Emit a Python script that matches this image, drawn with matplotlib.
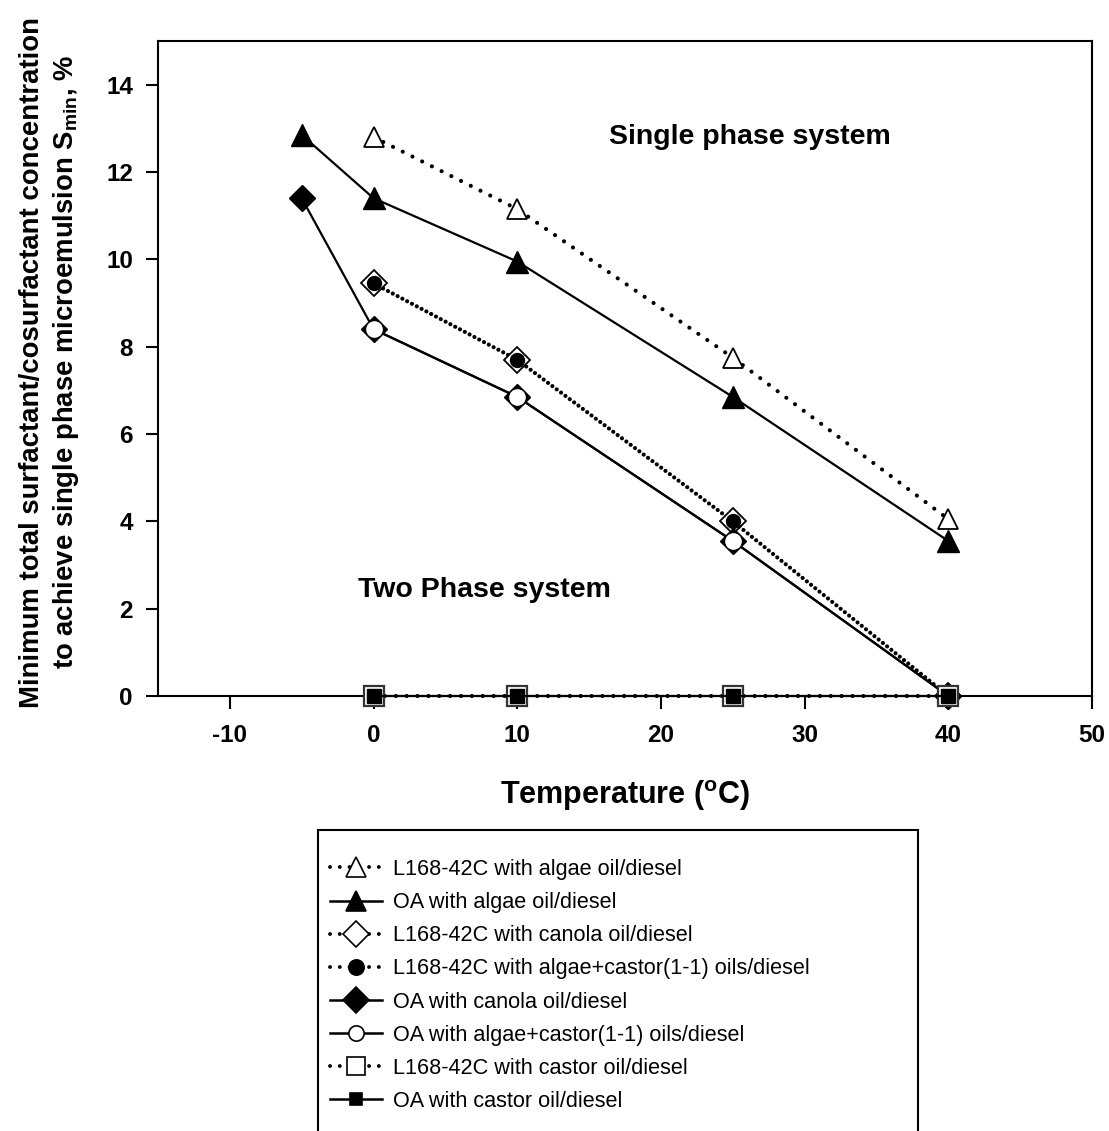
import matplotlib
matplotlib.use("Agg")
import matplotlib.pyplot as plt
from matplotlib.lines import Line2D
from matplotlib.patches import Rectangle

plt.rcParams['font.family'] = ['Liberation Sans', 'DejaVu Sans']
plt.rcParams['axes.unicode_minus'] = False

# Temperatures (°C)
temp_l168 = [0, 10, 25, 40]
temp_oa = [-5, 0, 10, 25, 40]
temp_oa_ac = [0, 10, 25, 40]
temp_castor = [0, 10, 25, 40]

# Minimum surfactant/cosurfactant concentration S_min (%)
l168_algae = [12.8, 11.15, 7.75, 4.05]
oa_algae = [12.85, 11.4, 9.95, 6.85, 3.55]
l168_canola = [9.45, 7.7, 4.0, 0.0]
l168_algae_castor = [9.45, 7.7, 4.0, 0.0]
oa_canola = [11.4, 8.4, 6.85, 3.55, 0.0]
oa_algae_castor = [8.4, 6.85, 3.55, 0.0]
l168_castor = [0.0, 0.0, 0.0, 0.0]
oa_castor = [0.0, 0.0, 0.0, 0.0]

labels = [
    "L168-42C with algae oil/diesel",
    "OA with algae oil/diesel",
    "L168-42C with canola oil/diesel",
    "L168-42C with algae+castor(1-1) oils/diesel",
    "OA with canola oil/diesel",
    "OA with algae+castor(1-1) oils/diesel",
    "L168-42C with castor oil/diesel",
    "OA with castor oil/diesel",
]

W, H = 1109, 1131
fig = plt.figure(figsize=(W / 100, H / 100), dpi=100)
ax = fig.add_axes([158 / W, 1 - 696 / H, (1092 - 158) / W, (696 - 41) / H])

dot = dict(color='black', lw=3.0, linestyle=(0, (0.01, 2.6)),
           dash_capstyle='round', clip_on=False)
dot_shift = dict(dot, linestyle=(1.3, (0.01, 2.6)))
sol = dict(color='black', lw=1.6, clip_on=False)

# algae oil series
ax.plot(temp_l168, l168_algae, marker='^', ms=15, mfc='white', mec='black',
        mew=1.3, zorder=3, **dot)
ax.plot(temp_oa, oa_algae, marker='^', ms=16, mfc='black', mec='black',
        zorder=3, **sol)

# canola / algae+castor series
ax.plot(temp_l168, l168_canola, marker='D', ms=13, mfc='white', mec='black',
        mew=1.3, zorder=3, **dot)
ax.plot(temp_l168, l168_algae_castor, marker='o', ms=10, mfc='black', mec='black',
        zorder=4, **dot_shift)
ax.plot(temp_oa, oa_canola, marker='D', ms=13.5, mfc='black', mec='black',
        zorder=3, **sol)
ax.plot(temp_oa_ac, oa_algae_castor, marker='o', ms=13, mfc='white', mec='black',
        mew=1.0, zorder=4, **sol)

# castor oil series along the baseline
ax.plot(temp_castor, l168_castor, marker='s', ms=14, mfc='white', mec='#333333',
        mew=1.6, zorder=6, **dot)
ax.plot(temp_castor, oa_castor, marker='s', ms=9.5, mfc='black', mec='black',
        zorder=7, **sol)

ax.set_xlim(-15, 50)
ax.set_ylim(0, 15)
ax.set_xticks([-10, 0, 10, 20, 30, 40, 50])
ax.set_yticks([0, 2, 4, 6, 8, 10, 12, 14])
ax.tick_params(direction='out', length=9, width=1.5, labelsize=17.5)
ax.tick_params(axis='x', pad=11)
ax.tick_params(axis='y', pad=9)
for lab in ax.get_xticklabels() + ax.get_yticklabels():
    lab.set_fontweight('bold')
for s in ax.spines.values():
    s.set_linewidth(1.5)

fig.text(625 / W, 1 - 804 / H, "Temperature ($\\mathregular{^o}$C)", fontsize=22,
         fontweight='bold', ha='center', va='baseline')
fig.text(50 / W, 1 - 362 / H,
         "Minimum total surfactant/cosurfactant concentration\n"
         "to achieve single phase microemulsion S$\\mathregular{_{min}}$, %",
         fontsize=19.8, fontweight='bold', rotation=90, ha='center', va='center',
         multialignment='center', linespacing=1.3)

ax.text(26.2, 12.65, "Single phase system", fontsize=20.5, fontweight='bold',
        ha='center', va='baseline')
ax.text(7.7, 2.26, "Two Phase system", fontsize=20.5, fontweight='bold',
        ha='center', va='baseline')

# legend with handles mirroring the plotted styles
def handle(marker, ms, mfc, line):
    return Line2D([], [], marker=marker, ms=ms, mfc=mfc, mec='black', mew=1.2, **line)

dot_leg = dict(color='black', lw=2.8, linestyle=(0, (0.01, 2.5)), dash_capstyle='round')
sol_leg = dict(color='black', lw=1.8)
handles = [
    handle('^', 14, 'white', dot_leg),
    handle('^', 14, 'black', sol_leg),
    handle('D', 13, 'white', dot_leg),
    handle('o', 11, 'black', dot_leg),
    handle('D', 13, 'black', sol_leg),
    handle('o', 11, 'white', sol_leg),
    handle('s', 13, 'white', dot_leg),
    handle('s', 9, 'black', sol_leg),
]
fig.legend(handles, labels, loc='upper left',
           bbox_to_anchor=(330 / W, 1 - 859 / H),
           frameon=False, fontsize=15.6, handlelength=2.4, handletextpad=0.5,
           labelspacing=0.56, borderpad=0.0, borderaxespad=0.0)

fig.add_artist(Rectangle((318 / W, -0.02), 600 / W, 1 - 830 / H + 0.02,
                         transform=fig.transFigure, fill=False, edgecolor='black',
                         lw=1.5))

fig.savefig("out.png", dpi=100)
